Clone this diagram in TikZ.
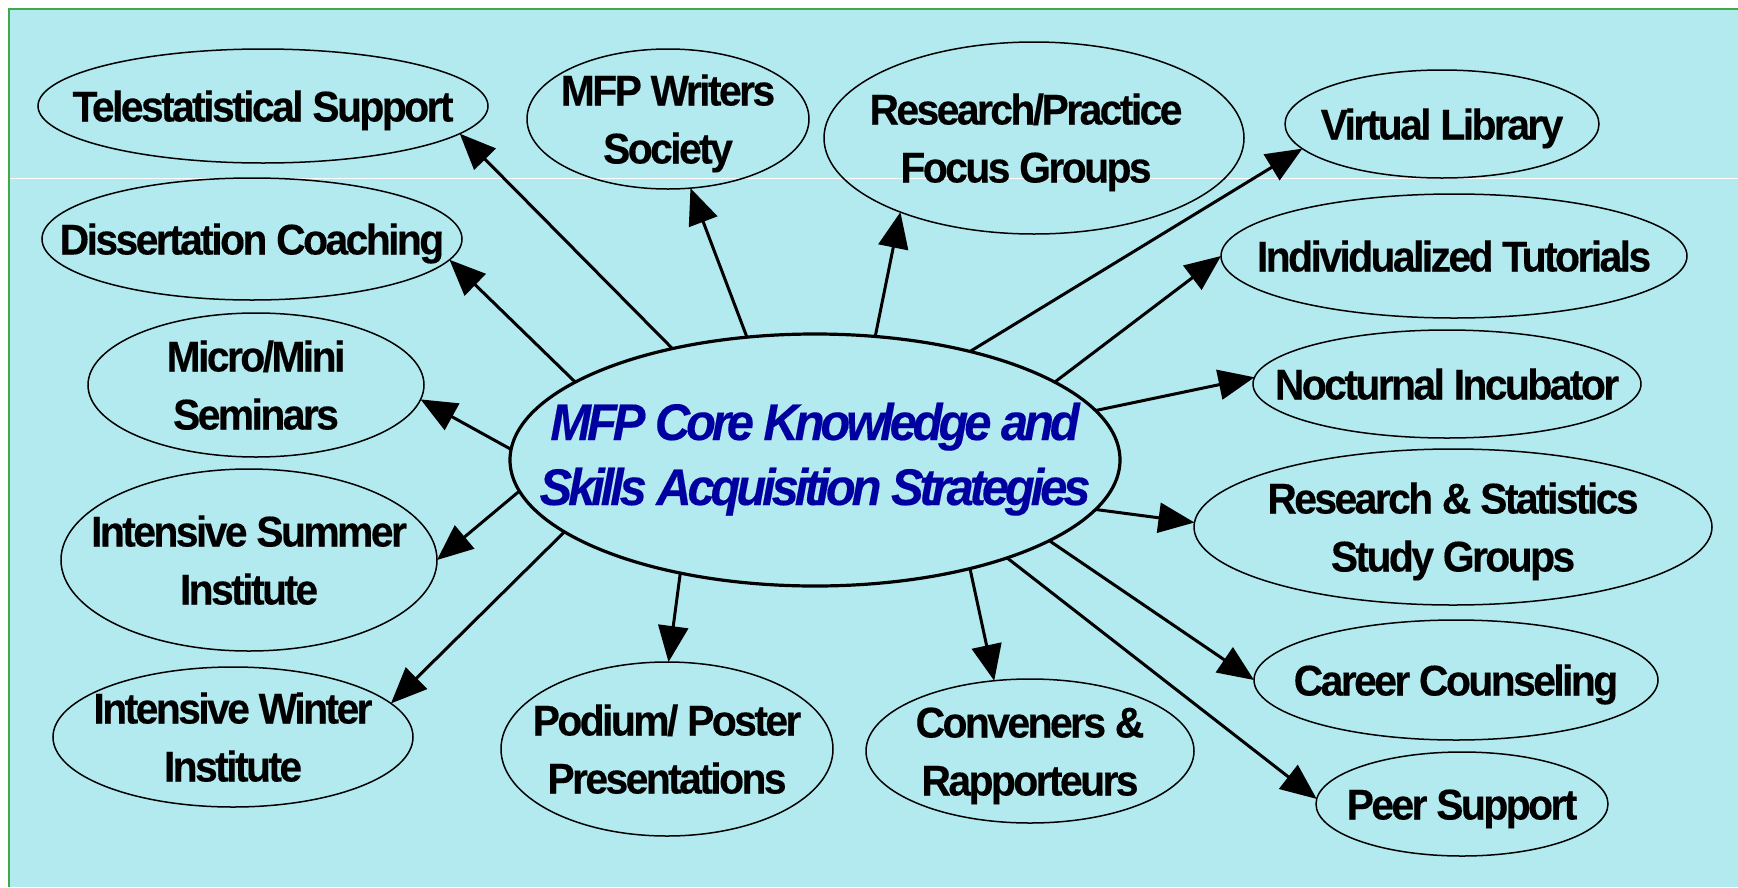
\documentclass[tikz,border=0pt]{standalone}
\usepackage{fontspec}
\usetikzlibrary{arrows.meta,shapes.geometric}
\newfontfamily\labfont{Liberation Sans}[FakeStretch=0.95,LetterSpace=-6,FakeBold=0.3]
\newfontfamily\cenfont{Liberation Sans}[FakeStretch=0.95,LetterSpace=-8,FakeBold=0.3]
\definecolor{bgc}{RGB}{178,234,240}
\definecolor{framec}{RGB}{60,170,70}
\definecolor{ctext}{RGB}{0,0,160}
\newcommand{\twol}[2]{\begin{tabular}[t]{@{}c@{}}#1\\#2\end{tabular}}
\tikzset{
  bub/.style={draw=black, line width=1.5pt, ellipse, inner sep=0pt, outer sep=0pt},
  lab/.style={font=\labfont\bfseries\fontsize{43}{58}\selectfont, inner sep=0pt, text height=31pt, text depth=0pt},
  labtwo/.style={lab, text depth=58pt},
  cen/.style={font=\cenfont\bfseries\itshape\fontsize{51.5}{65}\selectfont, text=ctext, inner sep=0pt, text height=37pt, text depth=65pt},
  arr/.style={line width=3pt, -{Triangle[length=36pt,width=30pt]}},
}
\begin{document}
\begin{tikzpicture}[x=1pt,y=-1pt]
\useasboundingbox (0,0) rectangle (1738,887);
\fill[white] (0,0) rectangle (1738,887);
\fill[bgc] (9,8.5) rectangle (1738,887);
\draw[framec, line width=2pt] (9,887) -- (9,8.5) -- (1738,8.5);
\draw[white, line width=1pt] (10,178) -- (1738,178);

% central
\node[bub, line width=3.2pt, minimum width=610pt, minimum height=252pt] (C) at (815,460) {};
\node[cen] at ([yshift=6pt]C.center) {\twol{MFP Core Knowledge and}{Skills Acquisition Strategies}};

% outer nodes
\node[bub, minimum width=450pt, minimum height=114pt] (tele) at (263,106) {};
\node[lab] at (tele.center) {Telestatistical Support};
\node[bub, minimum width=282pt, minimum height=140pt] (mfp) at (668,119) {};
\node[labtwo] at (mfp.center) {\twol{MFP Writers}{Society}};
\node[bub, minimum width=420pt, minimum height=192pt] (rp) at (1034,138) {};
\node[labtwo] at ([xshift=-8pt]rp.center) {\twol{Research/Practice}{Focus Groups}};
\node[bub, minimum width=314pt, minimum height=108pt] (vl) at (1442,124) {};
\node[lab] at (vl.center) {Virtual Library};
\node[bub, minimum width=420pt, minimum height=122pt] (diss) at (252,239) {};
\node[lab] at (diss.center) {Dissertation Coaching};
\node[bub, minimum width=466pt, minimum height=124pt] (ind) at (1454,256) {};
\node[lab] at (ind.center) {Individualized Tutorials};
\node[bub, minimum width=336pt, minimum height=144pt] (micro) at (256,385) {};
\node[labtwo] at (micro.center) {\twol{Micro/Mini}{Seminars}};
\node[bub, minimum width=388pt, minimum height=108pt] (noct) at (1447,384) {};
\node[lab] at (noct.center) {Nocturnal Incubator};
\node[bub, minimum width=376pt, minimum height=182pt] (summer) at (249,560) {};
\node[labtwo] at (summer.center) {\twol{Intensive Summer}{Institute}};
\node[bub, minimum width=518pt, minimum height=156pt] (rs) at (1453,527) {};
\node[labtwo] at (rs.center) {\twol{Research \& Statistics}{Study Groups}};
\node[bub, minimum width=360pt, minimum height=140pt] (winter) at (233,737) {};
\node[labtwo] at (winter.center) {\twol{Intensive Winter}{Institute}};
\node[bub, minimum width=332pt, minimum height=174pt] (pod) at (667,749) {};
\node[labtwo] at (pod.center) {\twol{Podium/ Poster}{Presentations}};
\node[bub, minimum width=328pt, minimum height=144pt] (conv) at (1030,751) {};
\node[labtwo] at (conv.center) {\twol{Conveners \&}{Rapporteurs}};
\node[bub, minimum width=404pt, minimum height=120pt] (car) at (1456,680) {};
\node[lab] at (car.center) {Career Counseling};
\node[bub, minimum width=292pt, minimum height=104pt] (peer) at (1462,804) {};
\node[lab] at (peer.center) {Peer Support};

% connectors
\draw[arr] (C.142.4) -- (tele.352.5);
\draw[arr] (C.162.0) -- (diss.354.5);
\draw[arr] (C.178.1) -- (micro.355.8);
\draw[arr] (C.186.2) -- (summer.0);
\draw[arr] (C.196.2) -- (winter.12.7);
\draw[arr] (C.220.2) -- (pod.89.3);
\draw[arr] (C.325.6) -- (conv.117.2);
\draw[arr] (C.333.9) -- (peer.178.0);
\draw[arr] (C.341.1) -- (car.180.6);
\draw[arr] (C.350.5) -- (rs.179.1);
\draw[arr] (C.10.9) -- (noct.178.8);
\draw[arr] (C.18.7) -- (ind.180.5);
\draw[arr] (C.35.7) -- (vl.190.0);
\draw[arr] (C.64.7) -- (rp.209.2);
\draw[arr] (C.119.2) -- (mfp.288.7);
\end{tikzpicture}
\end{document}
